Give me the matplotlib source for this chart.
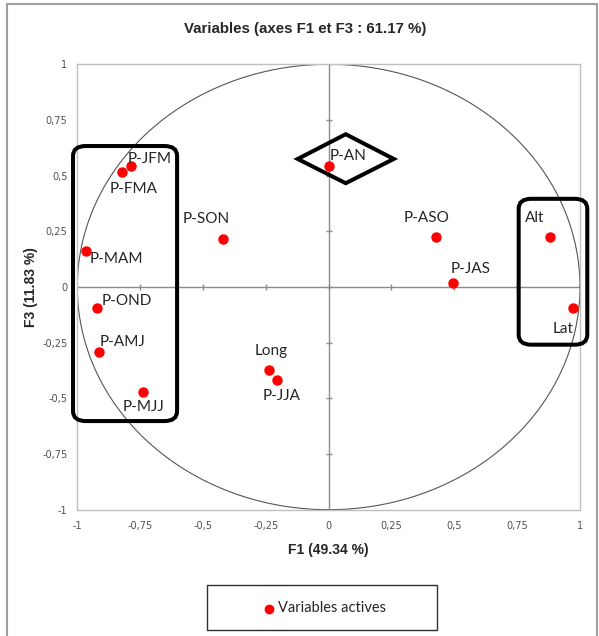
import matplotlib
matplotlib.use("Agg")
import matplotlib.pyplot as plt
import numpy as np
from matplotlib.patches import FancyBboxPatch, Polygon, Rectangle
from matplotlib.lines import Line2D

# ---- data ----
labels = ["P-JFM", "P-FMA", "P-MAM", "P-OND", "P-AMJ", "P-MJJ", "P-SON", "P-AN",
          "Long", "P-JJA", "P-ASO", "P-JAS", "Alt", "Lat"]
f1 = [-0.786, -0.821, -0.967, -0.923, -0.912, -0.739, -0.419, 0.001,
      -0.236, -0.204, 0.427, 0.494, 0.881, 0.973]
f3 = [0.543, 0.516, 0.162, -0.096, -0.292, -0.470, 0.217, 0.542,
      -0.373, -0.419, 0.223, 0.017, 0.223, -0.096]
ticks = [-1, -0.75, -0.5, -0.25, 0, 0.25, 0.5, 0.75, 1]
tick_labels = ["-1", "-0,75", "-0,5", "-0,25", "0", "0,25", "0,5", "0,75", "1"]
title = "Variables (axes F1 et F3 : 61.17 %)"
xlabel = "F1 (49.34 %)"
ylabel = "F3 (11.83 %)"
legend_label = "Variables actives"

# label offsets in pixels (dx to left edge of text, dy upward)
offsets = {
    "P-JFM": (-3, 7), "P-FMA": (-13, -17), "P-MAM": (4, -8), "P-OND": (5, 7),
    "P-AMJ": (0, 10), "P-MJJ": (-20, -15), "P-SON": (-41, 20), "P-AN": (1, 10),
    "Long": (-15, 19), "P-JJA": (-15, -16), "P-ASO": (-32, 19), "P-JAS": (-2, 14),
    "Alt": (-25, 19), "Lat": (-21, -21),
}

W, H = 599, 636
fig = plt.figure(figsize=(W / 100, H / 100), dpi=100)
fig.patch.set_facecolor("white")

ax = fig.add_axes([77.3 / W, 1 - 509.7 / H, (580 - 77.3) / W, (509.7 - 64.3) / H])
ax.set_xlim(-1, 1)
ax.set_ylim(-1, 1)
for s in ax.spines.values():
    s.set_color("#c0c0c0")
    s.set_linewidth(1.0)

ax.set_xticks(ticks)
ax.set_xticklabels(tick_labels, fontsize=7, family="DejaVu Sans", color="#505050")
ax.set_yticks(ticks)
ax.set_yticklabels(tick_labels, fontsize=7, family="DejaVu Sans", color="#505050")
ax.tick_params(length=0)
ax.tick_params(axis="x", pad=8)
ax.tick_params(axis="y", pad=7)

# central axes
ax.axhline(0, color="#8c8c8c", lw=1.0, zorder=1)
ax.axvline(0, color="#8c8c8c", lw=1.0, zorder=1)
tk = np.array(ticks)
ax.plot(np.zeros_like(tk), tk, ls="none", marker="_", ms=5, mew=1.0, color="#8c8c8c", zorder=1)
ax.plot(tk, np.zeros_like(tk), ls="none", marker="|", ms=5, mew=1.0, color="#8c8c8c", zorder=1)

# unit circle
th = np.linspace(0, 2 * np.pi, 400)
ax.plot(np.cos(th), np.sin(th), color="#555555", lw=0.8, zorder=2)

# points
ax.plot(f1, f3, ls="none", marker="o", ms=6.5, color="#ff0000", mec="#ff0000", zorder=4)
for lab, x, y in zip(labels, f1, f3):
    dx, dy = offsets[lab]
    ax.annotate(lab, (x, y), xytext=(dx, dy), textcoords="offset pixels",
                ha="left", va="center", fontsize=11, family="Lato", color="#262626", zorder=5)

# highlighting shapes
def rbox(x0, x1, y0, y1):
    p = FancyBboxPatch((x0, y0), x1 - x0, y1 - y0,
                       boxstyle="round,pad=0,rounding_size=0.05",
                       fill=False, ec="black", lw=2.9, clip_on=False, zorder=6,
                       mutation_aspect=222.7 / 251.35)
    ax.add_patch(p)

rbox(-1.017, -0.603, -0.602, 0.633)
rbox(0.756, 1.029, -0.259, 0.396)
ax.add_patch(Polygon([(-0.123, 0.575), (0.068, 0.686), (0.259, 0.575), (0.068, 0.466)],
                     closed=True, fill=False, ec="black", lw=2.9, clip_on=False, zorder=6,
                     joinstyle="miter"))

# texts
fig.text(305 / W, 1 - 29 / H, title, ha="center", va="center", fontsize=10.8,
         fontweight="bold", family="Liberation Sans", color="#262626")
fig.text(328.5 / W, 1 - 550 / H, xlabel, ha="center", va="center", fontsize=10,
         fontweight="bold", family="Liberation Sans", color="#262626")
fig.text(30.5 / W, 1 - 286.7 / H, ylabel, ha="center", va="center", fontsize=10,
         fontweight="bold", family="Liberation Sans", color="#262626", rotation=90)

# legend box
fig.patches.append(Rectangle((206.8 / W, 1 - 630 / H), (436.5 - 206.8) / W, (630 - 585) / H,
                             transform=fig.transFigure, fill=False, ec="#303030", lw=1.0))
fig.lines.append(Line2D([269 / W], [1 - 608.5 / H], transform=fig.transFigure,
                        marker="o", ms=6, color="#ff0000", ls="none"))
fig.text(277.5 / W, 1 - 608.5 / H, legend_label, ha="left", va="center", fontsize=10.5,
         family="Lato", color="#262626")

# outer border
fig.patches.append(Rectangle((7 / W, -0.05), (597 - 7) / W, 1.05 - 4 / H,
                             transform=fig.transFigure, fill=False, ec="#a0a0a0", lw=1.5))

fig.savefig("out.png", dpi=100)
